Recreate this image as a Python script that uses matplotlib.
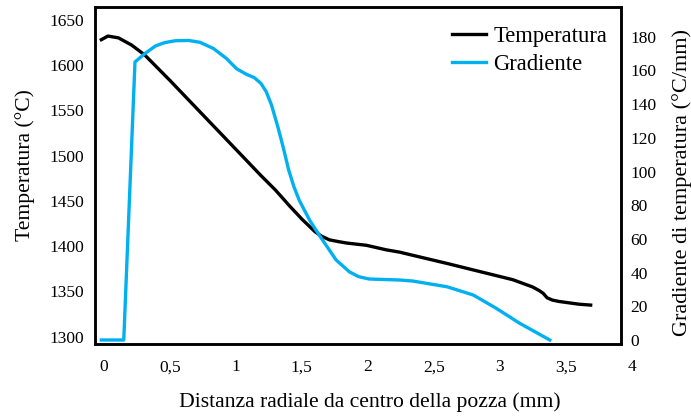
import matplotlib
matplotlib.use("Agg")
import matplotlib.pyplot as plt

# Data
x_temp = [-0.02, 0.03, 0.11, 0.21, 0.31, 0.5, 0.73, 0.98, 1.19, 1.3, 1.41, 1.5,
          1.6, 1.65, 1.71, 1.78, 1.84, 1.99, 2.14, 2.24, 2.34, 2.6, 2.85, 3.1, 3.25,
          3.3, 3.33, 3.36, 3.4, 3.45, 3.6, 3.69]
temperatura = [1628, 1632, 1630, 1622, 1611, 1583, 1548, 1510, 1478, 1462, 1444, 1430,
               1416, 1411, 1407, 1405, 1403.5, 1401, 1396, 1393.5, 1390, 1381, 1372,
               1363, 1355, 1351, 1348, 1343, 1340.5, 1339, 1336, 1335]

x_grad = [-0.02, 0.15, 0.235, 0.31, 0.39, 0.46, 0.54, 0.64, 0.727, 0.83, 0.93, 1.005,
          1.08, 1.14, 1.19, 1.23, 1.27, 1.32, 1.36, 1.40, 1.44, 1.48, 1.56, 1.64, 1.76,
          1.86, 1.93, 2.01, 2.24, 2.34, 2.6, 2.8, 2.97, 3.15, 3.38]
gradiente = [0, 0, 165, 170, 174.5, 176.5, 177.6, 177.8, 176.7, 173, 167, 161, 157.7,
             155.7, 152.3, 147.4, 139.5, 126, 114, 101, 91, 83, 71, 61.3, 47.5, 40.5,
             37.6, 36.2, 35.6, 35, 31.6, 26.7, 19, 10, 0]

x_ticks = [0, 0.5, 1, 1.5, 2, 2.5, 3, 3.5]
x_ticklabels = ["0", "0,5", "1", "1,5", "2", "2,5", "3", "3,5"]
extra_tick = 4
extra_ticklabel = "4"
t_ticks = [1300, 1350, 1400, 1450, 1500, 1550, 1600, 1650]
g_ticks = [0, 20, 40, 60, 80, 100, 120, 140, 160, 180]

plt.rcParams['font.family'] = ['Liberation Serif', 'DejaVu Serif']

fig = plt.figure(figsize=(6.91, 4.16), dpi=100)
ax = fig.add_axes([0.1375, 0.173, 0.7612, 0.81])
ax2 = ax.twinx()

black = "#000000"
blue = "#00B0F0"

l1, = ax.plot(x_temp, temperatura, color=black, lw=2.4, label="Temperatura", zorder=3,
              solid_joinstyle='round')
l2, = ax2.plot(x_grad, gradiente, color=blue, lw=2.4, label="Gradiente", zorder=3,
               solid_joinstyle='round')

ax.set_xlim(-0.068, 3.92)
ax.set_ylim(1292, 1664)
ax2.set_ylim(-2.4, 197.6)

ax.set_xticks(x_ticks)
ax.set_xticklabels(x_ticklabels)
ax.set_yticks(t_ticks)
ax2.set_yticks(g_ticks)

tick_fs = 12.5
ax.tick_params(axis='x', length=0, pad=11, labelsize=tick_fs)
ax.tick_params(axis='y', length=0, pad=8, labelsize=tick_fs)
ax2.tick_params(axis='y', length=0, pad=7, labelsize=tick_fs)

ax.annotate(extra_ticklabel, xy=(extra_tick, 0), xycoords=('data', 'axes fraction'),
            xytext=(0, -11), textcoords='offset points', ha='center', va='top',
            fontsize=tick_fs, annotation_clip=False)

for a in (ax, ax2):
    for s in a.spines.values():
        s.set_linewidth(1.8)
        s.set_color(black)

label_fs = 15.6
ax.set_xlabel("Distanza radiale da centro della pozza (mm)", fontsize=label_fs)
ax.set_ylabel("Temperatura (°C)", fontsize=label_fs)
ax2.set_ylabel("Gradiente di temperatura (°C/mm)", fontsize=16)
for lab in (ax.xaxis.label, ax.yaxis.label, ax2.yaxis.label):
    lab.set_va('center')
    lab.set_ha('center')
ax.xaxis.set_label_coords(0.523, -0.172)
ax.yaxis.set_label_coords(-0.133, 0.531)
ax2.yaxis.set_label_coords(1.116, 0.478)

leg = ax2.legend(handles=[l1, l2], loc='upper left', bbox_to_anchor=(0.671, 0.958),
                 frameon=False, fontsize=16.3, handlelength=1.5, handletextpad=0.3,
                 labelspacing=0.3, borderaxespad=0.0, borderpad=0.2)

fig.savefig("out.png", dpi=100)
